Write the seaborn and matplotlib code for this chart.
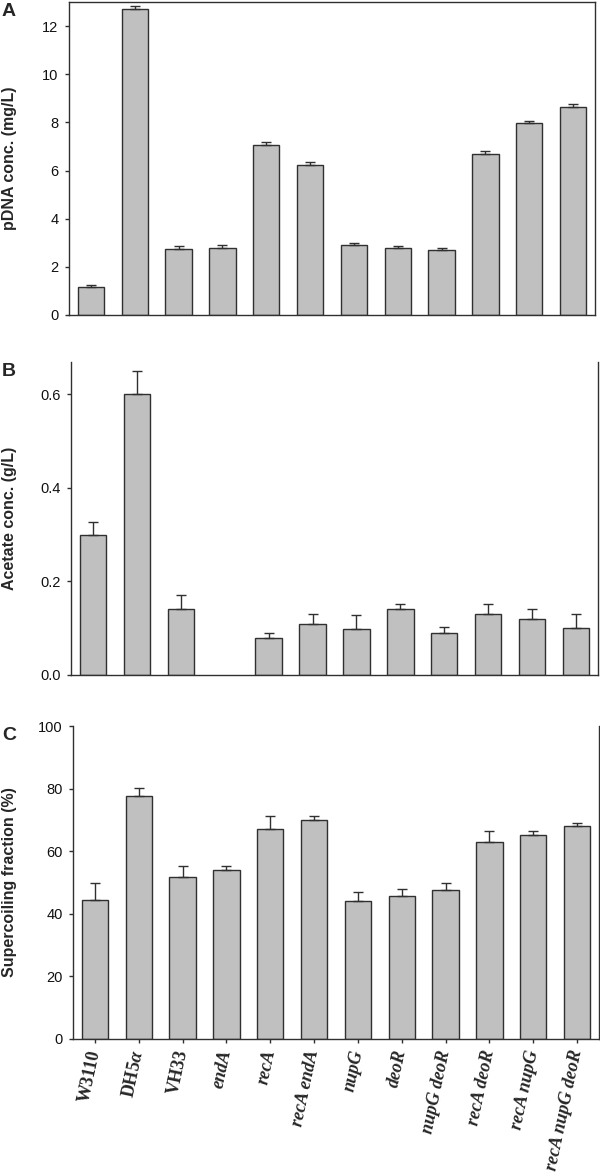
import numpy as np
import pandas as pd
import matplotlib
matplotlib.use('Agg')
import matplotlib.pyplot as plt
import seaborn as sns

# strains on the x axis (shared by all three panels)
strains = ['W3110', 'DH5a', 'VH33', 'endA', 'recA', 'recA endA', 'nupG', 'deoR',
           'nupG deoR', 'recA deoR', 'recA nupG', 'recA nupG deoR']
tick_labels = ['W3110', r'DH5$\alpha$', 'VH33', 'endA', 'recA', 'recA endA', 'nupG', 'deoR',
               'nupG deoR', 'recA deoR', 'recA nupG', 'recA nupG deoR']
italic = [False, False, False] + [True] * 9

# A: pDNA concentration (mg/L), upper error
pdna = [1.15, 12.73, 2.76, 2.80, 7.07, 6.25, 2.90, 2.80, 2.69, 6.69, 7.96, 8.65]
pdna_err = [0.09, 0.10, 0.11, 0.10, 0.10, 0.10, 0.10, 0.08, 0.11, 0.11, 0.10, 0.10]

# B: acetate concentration (g/L), endA not measured
acetate = [0.30, 0.60, 0.14, np.nan, 0.08, 0.11, 0.098, 0.14, 0.09, 0.13, 0.12, 0.10]
acetate_err = [0.027, 0.05, 0.03, np.nan, 0.01, 0.02, 0.03, 0.012, 0.012, 0.022, 0.02, 0.03]

# C: supercoiling fraction (%)
supercoil = [44.3, 77.6, 51.6, 54.0, 67.1, 70.1, 44.2, 45.7, 47.6, 63.0, 65.2, 68.1]
supercoil_err = [5.6, 2.6, 3.8, 1.4, 4.2, 1.2, 2.9, 2.2, 2.1, 3.6, 1.2, 1.0]

sns.set_style('ticks')
plt.rcParams['font.family'] = ['Liberation Sans', 'DejaVu Sans']
plt.rcParams['mathtext.fontset'] = 'custom'
plt.rcParams['mathtext.rm'] = 'Liberation Serif:bold'
plt.rcParams['mathtext.it'] = 'Liberation Serif:bold:italic'

W, H = 600, 1176
fig = plt.figure(figsize=(W / 100, H / 100), dpi=100)

# panel boxes in pixels: left, right, top, bottom
boxes = [(69, 595, 2, 315), (71, 598, 362, 675), (73, 599, 726, 1039)]
panels = [
    ('A', pdna, pdna_err, 'pDNA conc. (mg/L)', (0, 13), np.arange(0, 13, 2), '{:.0f}'),
    ('B', acetate, acetate_err, 'Acetate conc. (g/L)', (0, 0.669), np.arange(0, 0.61, 0.2), '{:.1f}'),
    ('C', supercoil, supercoil_err, 'Supercoiling fraction (%)', (0, 100), np.arange(0, 101, 20), '{:.0f}'),
]
edge = '#303030'

for (l, r, t, b), (letter, vals, errs, ylab, ylim, yt, fmt) in zip(boxes, panels):
    ax = fig.add_axes([l / W, 1 - b / H, (r - l) / W, (b - t) / H])
    df = pd.DataFrame({'strain': strains, 'value': vals})
    sns.barplot(data=df, x='strain', y='value', color='#c0c0c0', saturation=1,
                edgecolor=edge, linewidth=1, width=0.6, errorbar=None, ax=ax)
    v = np.array(vals, dtype=float)
    e = np.array(errs, dtype=float)
    ok = ~np.isnan(v)
    ax.errorbar(np.arange(len(v))[ok], v[ok], yerr=[np.zeros(ok.sum()), e[ok]],
                fmt='none', ecolor=edge, elinewidth=1, capsize=3.5, capthick=1)
    ax.set_xlim(-0.5, 11.5)
    ax.set_ylim(*ylim)
    ax.set_yticks(yt)
    ax.set_yticklabels([fmt.format(y) for y in yt])
    ax.set_xlabel('')
    ax.set_ylabel(ylab, fontsize=11.5, fontweight='bold')
    ax.yaxis.set_label_coords((17 - l) / (r - l), 0.5)
    for s in ax.spines.values():
        s.set_color(edge)
        s.set_linewidth(1)
        s.set_visible(True)
    if letter != 'A':
        ax.spines['top'].set_visible(False)
    ax.tick_params(axis='y', direction='out', length=3, width=1, color=edge,
                   labelsize=10.5, pad=4.5, labelcolor='#111111')
    if letter == 'C':
        ax.set_xticks(range(len(strains)))
        ax.set_xticklabels(tick_labels, rotation=78, ha='right', va='center',
                           rotation_mode='anchor')
        for lab, it in zip(ax.get_xticklabels(), italic):
            lab.set_fontfamily('Liberation Serif')
            lab.set_fontweight('bold')
            lab.set_fontstyle('italic' if it else 'normal')
            lab.set_fontsize(13)
        ax.tick_params(axis='x', direction='out', length=3, width=1, color=edge, pad=5)
    else:
        ax.tick_params(axis='x', bottom=False, labelbottom=False)
    fig.text(2 / W, 1 - (t + 1) / H, letter, ha='left', va='top',
             fontsize=14, fontweight='bold')

fig.savefig('out.png', dpi=100)
